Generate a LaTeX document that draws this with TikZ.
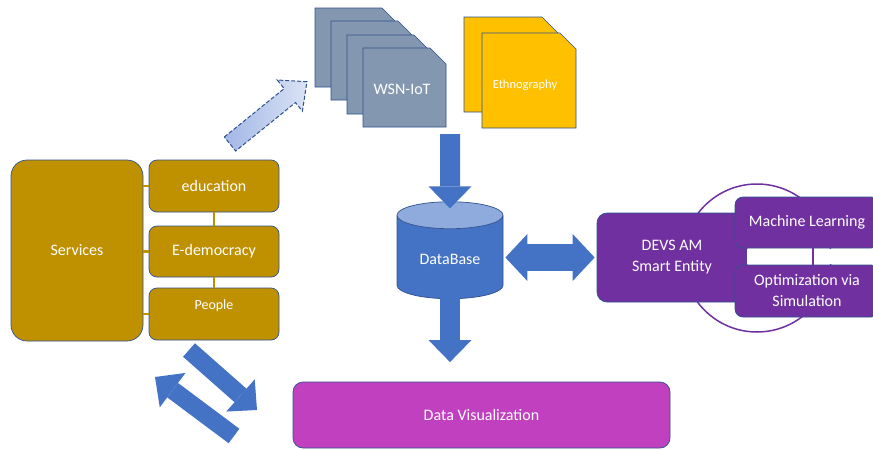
\documentclass[tikz,border=0pt]{standalone}
\usepackage{fontspec}
\setmainfont{Carlito}
\usetikzlibrary{shapes.geometric,arrows.meta,calc}
\definecolor{gold}{HTML}{BF9000}
\definecolor{edge}{HTML}{2F528F}
\definecolor{slate}{HTML}{8497B0}
\definecolor{amber}{HTML}{FFC000}
\definecolor{dbblue}{HTML}{4472C4}
\definecolor{dbtop}{HTML}{8FAADC}
\definecolor{devs}{HTML}{7030A0}
\definecolor{viz}{HTML}{C040C0}
\definecolor{skyA}{HTML}{A3B7E6}
\definecolor{skyB}{HTML}{DAE3F5}

\begin{document}
\begin{tikzpicture}[x=1pt, y=-1pt, font=\fontsize{16}{21}\selectfont, text=white,
  box/.style={draw=edge, line width=0.7pt, rounded corners=8pt, align=center},
  sheet/.style={draw=edge, line width=0.7pt},
  link/.style={gold, line width=2.5pt},
  blockarrow/.style={dbblue, line width=20pt, -{Triangle[length=22pt, width=43pt, line width=0pt]}},
  dblarrow/.style={dbblue, line width=27pt, {Triangle[length=22pt, width=47pt, line width=0pt]}-{Triangle[length=22pt, width=47pt, line width=0pt]}}]
  \useasboundingbox (0,0) rectangle (873,450);

  % services side
  \node[box, fill=gold, rounded corners=16pt, minimum width=132pt, minimum height=181pt] (services) at (77,250.5) {Services};
  \node[box, fill=gold, minimum width=130pt, minimum height=52pt] (edu) at (214,186) {education};
  \node[box, fill=gold, minimum width=130pt, minimum height=51pt] (edem) at (214,251.5) {E-democracy};
  \node[box, fill=gold, minimum width=130pt, minimum height=52pt, font=\fontsize{14}{17}\selectfont, text height=9pt, text depth=19pt] (people) at (214,314) {People};
  \draw[link] (services.east |- edu.west) -- (edu.west);
  \draw[link] (services.east |- edem.west) -- (edem.west);
  \draw[link] (services.east |- people.west) -- (people.west);
  \draw[link] (edu.south) -- (edem.north);
  \draw[link] (edem.south) -- (people.north);

  % sensor sheets
  \draw[sheet, fill=slate] (315,8) -- ++(67,0) -- ++(16,16) -- ++(0,63) -- ++(-83,0) -- cycle;
  \draw[sheet, fill=slate] (331,21) -- ++(67,0) -- ++(16,16) -- ++(0,63) -- ++(-83,0) -- cycle;
  \draw[sheet, fill=slate] (347,35) -- ++(67,0) -- ++(16,16) -- ++(0,63) -- ++(-83,0) -- cycle;
  \draw[sheet, fill=slate] (363,48) -- ++(67,0) -- ++(16,16) -- ++(0,63) -- ++(-83,0) -- cycle;
  \node (wsn) at (402,89) {WSN-IoT};
  \draw[sheet, fill=amber] (464,17) -- ++(78,0) -- ++(16,16) -- ++(0,79) -- ++(-94,0) -- cycle;
  \draw[sheet, fill=amber] (482,33) -- ++(78,0) -- ++(16,16) -- ++(0,79) -- ++(-94,0) -- cycle;
  \node[font=\fontsize{12.5}{15}\selectfont] (ethno) at (525,85) {Ethnography};

  % dashed arrow up to the sensors
  \coordinate (up) at (230,144);
  \begin{scope}[shift={(up)}, rotate=39]
    \draw[edge, line width=1pt, dash pattern=on 4pt off 2pt, left color=skyA, right color=skyB]
      (0,-9) -- (77,-9) -- (77,-20) -- (99,0) -- (77,20) -- (77,9) -- (0,9) -- cycle;
  \end{scope}

  % database
  \node[cylinder, shape border rotate=90, aspect=0.4, draw=edge, line width=0.7pt,
    cylinder uses custom fill, cylinder body fill=dbblue, cylinder end fill=dbtop,
    minimum width=106pt, minimum height=97pt] (db) at (450,259.5) {DataBase};
  \coordinate (feed) at (450,134);
  \draw[blockarrow] (feed) -- ($(db.north)+(0,7)$);

  % smart entity
  \node[circle, draw=devs, line width=1.5pt, minimum size=148pt] (ring) at (757,258) {};
  \node[box, fill=devs, rounded corners=10pt, minimum width=150pt, minimum height=89pt] (devs) at (672,257.5) {DEVS AM\\Smart Entity};
  \node[box, fill=devs, minimum width=144pt, minimum height=51pt] (ml) at (807,222.5) {Machine Learning};
  \node[box, fill=devs, minimum width=144pt, minimum height=52pt] (ovs) at (807,291) {Optimization via\\Simulation};
  \fill[white] ($(devs.east |- ml.south)+(0,1)$) rectangle ($(ovs.north east)+(0,-1)$);
  \draw[devs, line width=2pt] ([xshift=6pt]ml.south) -- ([xshift=6pt]ovs.north);
  \draw[dblarrow] ($(db.east |- devs.west)+(2,0)$) -- ($(devs.west)+(-2,0)$);

  % visualization
  \node[box, fill=viz, rounded corners=10pt, minimum width=377pt, minimum height=66pt] (dataviz) at (481.5,415) {Data Visualization};
  \draw[blockarrow] ($(db.south)+(0,-4)$) -- ++(0,67);
  \coordinate (outA) at (189,350);
  \coordinate (outB) at (257,410);
  \coordinate (backA) at (234,436);
  \coordinate (backB) at (155,377);
  \draw[blockarrow, line width=18pt] (outA) -- (outB);
  \draw[blockarrow, line width=18pt] (backA) -- (backB);
\end{tikzpicture}
\end{document}
